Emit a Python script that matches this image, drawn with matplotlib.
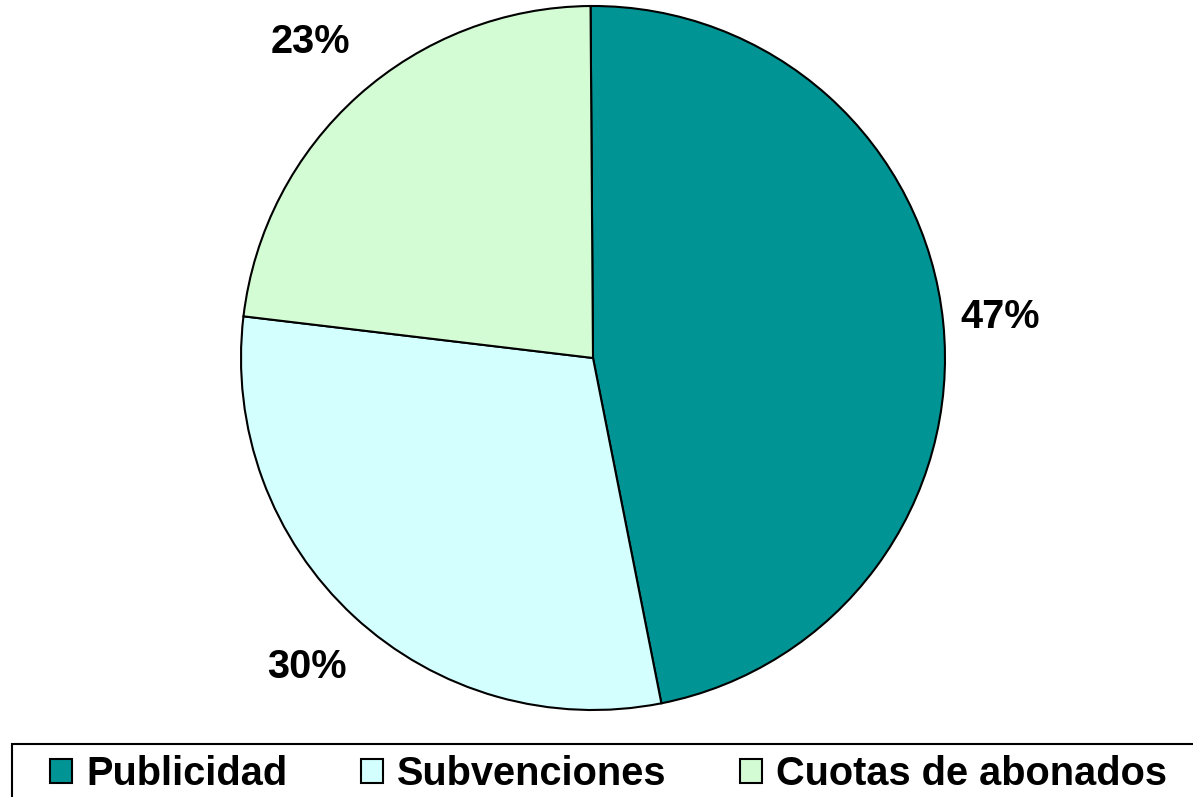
import matplotlib
matplotlib.use("Agg")
import numpy as np
import matplotlib.pyplot as plt
from matplotlib.patches import Patch, Rectangle

categories = ["Publicidad", "Subvenciones", "Cuotas de abonados"]
values = [47, 30, 23]
colors = ["#009494", "#D4FFFF", "#D4FCD4"]

W, H = 1193, 797
fig = plt.figure(figsize=(W / 100, H / 100), dpi=100)
ax = fig.add_axes([0, 0, 1, 1])

cx, cy, r = 593, H - 358, 352
FONT = "Liberation Sans"
fs = 28.6

wedges, texts, autotexts = ax.pie(
    values, colors=colors, startangle=90.4, counterclock=False,
    center=(cx, cy), radius=r, frame=True,
    autopct="%d%%", pctdistance=1.18,
    wedgeprops=dict(edgecolor="black", linewidth=1.5),
    textprops=dict(fontsize=fs, fontweight="bold", family=FONT, color="black"),
)
ax.set_xlim(0, W)
ax.set_ylim(0, H)
ax.set_aspect("equal")
ax.axis("off")

# label distances (fraction of radius), set per label
label_dist = [1.162, 1.195, 1.205]
for w, t, d in zip(wedges, autotexts, label_dist):
    ang = np.deg2rad((w.theta1 + w.theta2) / 2)
    t.set_position((cx + d * r * np.cos(ang), cy + d * r * np.sin(ang)))

# legend frame
ax.add_patch(Rectangle((12, -10), 1200, H - 744 + 10, facecolor="white",
                       edgecolor="black", linewidth=1.5, clip_on=False))

handles = [Patch(facecolor=c, edgecolor="black", linewidth=1.5) for c in colors]
leg = ax.legend(handles, categories, loc="upper left",
                bbox_to_anchor=(50, H - 755), bbox_transform=ax.transData,
                ncol=3, frameon=False, borderpad=0, borderaxespad=0,
                handlelength=0.55, handleheight=0.55, handletextpad=0.36,
                columnspacing=1.85,
                prop=dict(family=FONT, weight="bold", size=fs))
fig.savefig("out.png", dpi=100)
